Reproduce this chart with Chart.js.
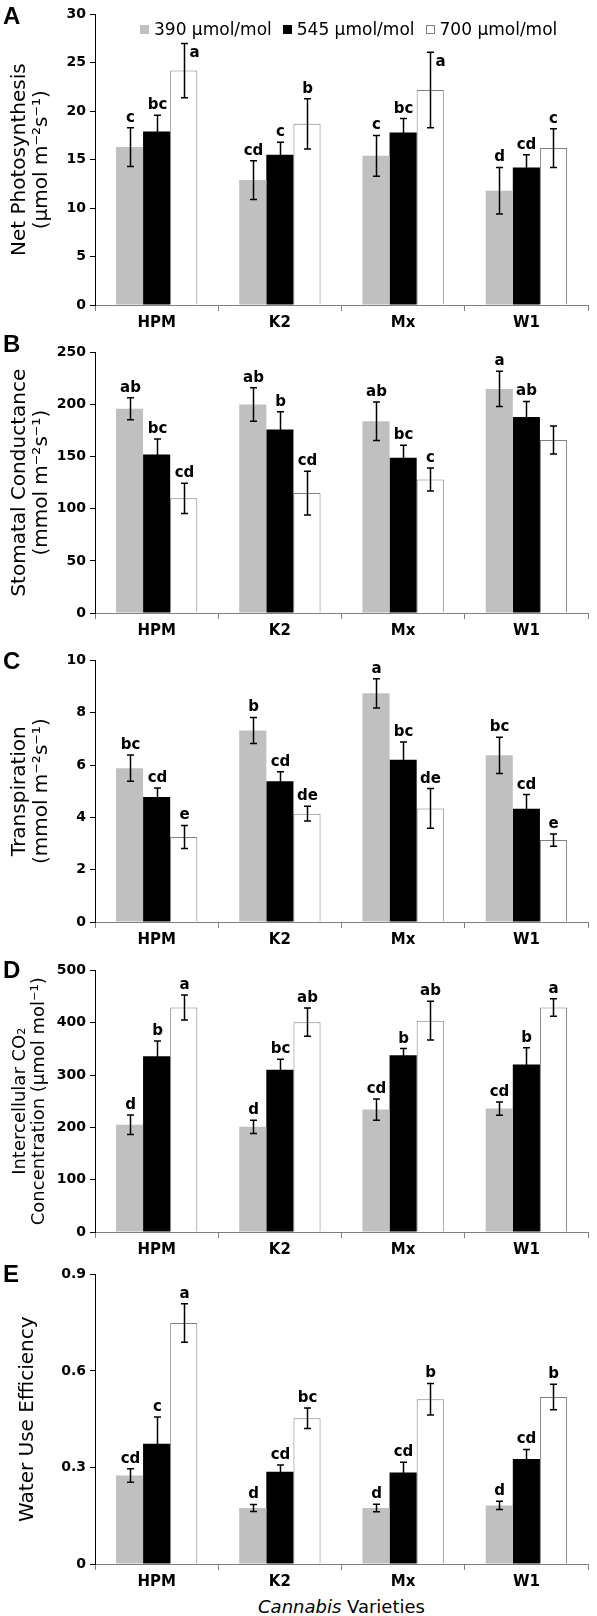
<!DOCTYPE html>
<html>
<head>
<meta charset="utf-8">
<script src="https://cdn.jsdelivr.net/npm/chart.js@4.4.1/dist/chart.umd.min.js"></script>
<style>
    body { margin: 0; background: #fff; }
    #page { position: relative; width: 597px; height: 1616px; overflow: hidden; font-family: "DejaVu Sans", sans-serif; color: #000; }
    #page canvas { position: absolute; left: 0; }
    .panel-letter { position: absolute; left: 3px; font: bold 24px "Liberation Sans", Arial, sans-serif; line-height: 24px; }
    #legend { position: absolute; top: 20px; left: 140px; display: flex; font-size: 17px; line-height: 18px; white-space: nowrap; }
    #legend .item { display: flex; align-items: center; margin-right: 11px; }
    #legend .swatch { width: 9px; height: 9px; box-sizing: border-box; margin-right: 5px; }
    #x-title { position: absolute; left: 95px; width: 493px; top: 1596px; text-align: center; font-size: 18px; }
</style>
</head>
<body>
<div id="page">
    <canvas id="chartA"></canvas>
    <canvas id="chartB"></canvas>
    <canvas id="chartC"></canvas>
    <canvas id="chartD"></canvas>
    <canvas id="chartE"></canvas>
    <div class="panel-letter" style="top:4px">A</div>
    <div class="panel-letter" style="top:332px">B</div>
    <div class="panel-letter" style="top:649px">C</div>
    <div class="panel-letter" style="top:958px">D</div>
    <div class="panel-letter" style="top:1262px">E</div>
    <div id="legend"></div>
    <div id="x-title"><i>Cannabis</i> Varieties</div>
</div>
<script>
const varieties = ["HPM", "K2", "Mx", "W1"];
const seriesLabels = ["390 µmol/mol", "545 µmol/mol", "700 µmol/mol"];

// A - net photosynthesis (rows: 390, 545, 700)
const photoMean = [[16.3, 12.9, 15.4, 11.8], [17.9, 15.5, 17.8, 14.2], [24.2, 18.7, 22.2, 16.2]];
const photoErr = [[2.0, 2.0, 2.1, 2.4], [1.7, 1.3, 1.45, 1.3], [2.8, 2.6, 3.9, 2.0]];
const photoLetters = [["c", "cd", "c", "d"], ["bc", "c", "bc", "cd"], ["a", "b", "a", "c"]];

// B - stomatal conductance
const condMean = [[196, 200, 184, 215], [152, 176, 149, 188], [110, 115, 128, 166]];
const condErr = [[10.5, 16, 18.5, 17], [15, 17, 12, 15], [14.5, 21, 11, 13.5]];
const condLetters = [["ab", "ab", "ab", "a"], ["bc", "b", "bc", "ab"], ["cd", "cd", "c", ""]];

// C - transpiration
const transMean = [[5.88, 7.32, 8.74, 6.37], [4.78, 5.38, 6.2, 4.33], [3.25, 4.14, 4.34, 3.13]];
const transErr = [[0.5, 0.5, 0.56, 0.69], [0.34, 0.36, 0.68, 0.54], [0.44, 0.28, 0.76, 0.23]];
const transLetters = [["bc", "b", "a", "bc"], ["cd", "cd", "bc", "cd"], ["e", "de", "de", "e"]];

// D - intercellular CO2
const ciMean = [[205, 201, 234, 236], [336, 310, 338, 320], [429, 401, 404, 429]];
const ciErr = [[18.5, 12.7, 20.3, 12.7], [29, 20, 12.7, 32], [24, 27, 37, 16.6]];
const ciLetters = [["d", "d", "cd", "cd"], ["b", "bc", "b", "b"], ["a", "ab", "ab", "a"]];

// E - water use efficiency
const wueMean = [[0.275, 0.174, 0.174, 0.182], [0.374, 0.287, 0.284, 0.326], [0.749, 0.453, 0.512, 0.519]];
const wueErr = [[0.021, 0.011, 0.012, 0.013], [0.083, 0.021, 0.032, 0.030], [0.060, 0.032, 0.049, 0.040]];
const wueLetters = [["cd", "d", "d", "d"], ["c", "cd", "cd", "cd"], ["a", "bc", "b", "b"]];

const barFill = ["#c0c0c0", "#000000", "#ffffff"];
const barEdge = ["#c0c0c0", "#000000", "#808080"];
const barEdgeWidth = [0, 0, 1];

Chart.defaults.font.family = "'DejaVu Sans', sans-serif";
Chart.defaults.color = "#000";

// legend (only drawn once, at the top of panel A)
const legendEl = document.getElementById("legend");
seriesLabels.forEach((label, i) => {
    const item = document.createElement("div");
    item.className = "item";
    item.innerHTML = `<span class="swatch" style="background:${barFill[i]};border:1px solid ${barEdge[i]}"></span>${label}`;
    legendEl.appendChild(item);
});

// error bars + significance letters
const errorBarPlugin = {
    id: "errorBars",
    afterDatasetsDraw(chart) {
        const ctx = chart.ctx;
        const y = chart.scales.y;
        const canvasBox = chart.canvas.getBoundingClientRect();
        const legBox = chart.options.plugins.avoidLegend ? legendEl.getBoundingClientRect() : null;

        ctx.save();
        ctx.strokeStyle = "#000";
        ctx.lineWidth = 1.5;
        ctx.fillStyle = "#000";
        ctx.font = "bold 15px 'DejaVu Sans', sans-serif";
        ctx.textAlign = "center";

        chart.data.datasets.forEach((ds, i) => {
            const meta = chart.getDatasetMeta(i);
            meta.data.forEach((bar, j) => {
                const mean = ds.data[j];
                const err = ds.errors[j];
                const x = Math.round(bar.x) + 0.5;
                const top = y.getPixelForValue(mean + err);
                const bot = y.getPixelForValue(mean - err);

                ctx.beginPath();
                ctx.moveTo(x, top);
                ctx.lineTo(x, bot);
                ctx.moveTo(x - 3.5, top);
                ctx.lineTo(x + 3.5, top);
                ctx.moveTo(x - 3.5, bot);
                ctx.lineTo(x + 3.5, bot);
                ctx.stroke();

                const letter = ds.letters[j];
                if (!letter) return;
                let tx = x;
                let ty = top - 6;
                if (legBox) {
                    const pageTop = canvasBox.top + ty - 14;
                    const pageX = canvasBox.left + tx;
                    if (pageTop < legBox.bottom && pageX > legBox.left && pageX < legBox.right) {
                        tx = x + 10;
                        ty = top + 14;
                    }
                }
                ctx.fillText(letter, tx, ty);
            });
        });
        ctx.restore();
    }
};

const panels = [
    { id: "chartA", top: 14, zero: 305, max: 30, step: 5, mean: photoMean, err: photoErr, letters: photoLetters,
      title: ["Net Photosynthesis", "(µmol m⁻²s⁻¹)"], titleSize: 20, titlePad: 9, avoidLegend: true },
    { id: "chartB", top: 352, zero: 613, max: 250, step: 50, mean: condMean, err: condErr, letters: condLetters,
      title: ["Stomatal Conductance", "(mmol m⁻²s⁻¹)"], titleSize: 20, titlePad: 9 },
    { id: "chartC", top: 660, zero: 922, max: 10, step: 2, mean: transMean, err: transErr, letters: transLetters,
      title: ["Transpiration", "(mmol m⁻²s⁻¹)"], titleSize: 20, titlePad: 9 },
    { id: "chartD", top: 970, zero: 1232, max: 500, step: 100, mean: ciMean, err: ciErr, letters: ciLetters,
      title: ["Intercellular CO₂", "Concentration (µmol mol⁻¹)"], titleSize: 18, titlePad: 10 },
    { id: "chartE", top: 1274, zero: 1564, max: 0.9, step: 0.3, mean: wueMean, err: wueErr, letters: wueLetters,
      title: "Water Use Efficiency", titleSize: 20, titlePad: 17, fmt: v => (v === 0 ? "0" : v.toFixed(1)) },
];

const PAD_TOP = 12;
const X_AXIS_H = 30;

panels.forEach(p => {
    const canvas = document.getElementById(p.id);
    canvas.width = 597;
    canvas.height = p.zero - p.top + PAD_TOP + X_AXIS_H;
    canvas.style.top = (p.top - PAD_TOP) + "px";

    new Chart(canvas, {
        type: "bar",
        data: {
            labels: varieties,
            datasets: seriesLabels.map((label, i) => ({
                label: label,
                data: p.mean[i],
                errors: p.err[i],
                letters: p.letters[i],
                backgroundColor: barFill[i],
                borderColor: barEdge[i],
                borderWidth: barEdgeWidth[i],
                categoryPercentage: 0.66,
                barPercentage: 1,
            })),
        },
        options: {
            responsive: false,
            animation: false,
            layout: { padding: { top: PAD_TOP, right: 9, bottom: 0, left: 0 } },
            plugins: {
                legend: { display: false },
                tooltip: { enabled: false },
                avoidLegend: !!p.avoidLegend,
            },
            scales: {
                x: {
                    grid: { offset: true, drawOnChartArea: false, tickLength: 6, color: "#808080" },
                    border: { color: "#808080" },
                    ticks: { font: { size: 15, weight: "bold" }, padding: 3, maxRotation: 0 },
                    afterFit: s => { s.height = X_AXIS_H; },
                },
                y: {
                    min: 0,
                    max: p.max,
                    grid: { drawOnChartArea: false, tickLength: 5, color: "#000" },
                    border: { color: "#000" },
                    ticks: {
                        stepSize: p.step,
                        padding: 4,
                        font: { size: 14, weight: "bold" },
                        callback: p.fmt || (v => v),
                    },
                    title: {
                        display: true,
                        text: p.title,
                        font: { size: p.titleSize, lineHeight: 1.1 },
                        padding: { top: p.titlePad, bottom: 0 },
                    },
                    afterFit: s => { s.width = 95; },
                },
            },
        },
        plugins: [errorBarPlugin],
    });
});
</script>
</body>
</html>
